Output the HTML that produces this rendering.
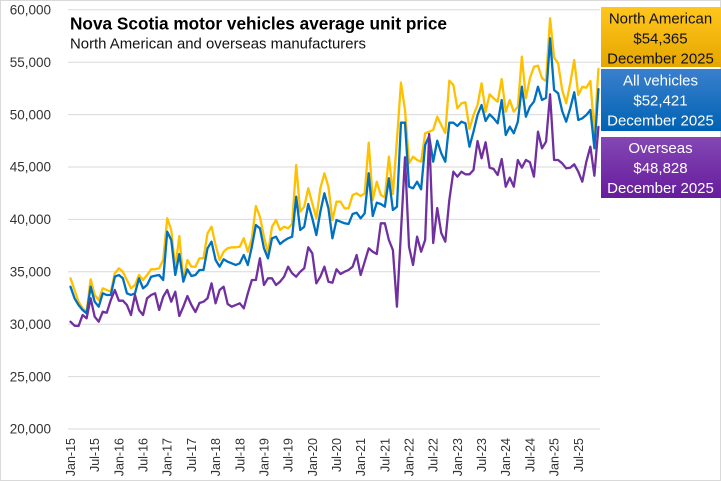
<!DOCTYPE html>
<html><head><meta charset="utf-8"><style>
html,body{margin:0;padding:0;background:#fff;}
svg{display:block;}
text{font-family:"Liberation Sans",Arial,sans-serif;}
</style></head><body>
<svg width="721" height="481" viewBox="0 0 721 481" xmlns="http://www.w3.org/2000/svg">
<defs>
<linearGradient id="gy" x1="0" y1="0" x2="0" y2="1"><stop offset="0" stop-color="#FFC61E"/><stop offset="1" stop-color="#E5A600"/></linearGradient>
<linearGradient id="gb" x1="0" y1="0" x2="0" y2="1"><stop offset="0" stop-color="#3A80CC"/><stop offset="1" stop-color="#0062B4"/></linearGradient>
<linearGradient id="gp" x1="0" y1="0" x2="0" y2="1"><stop offset="0" stop-color="#8447B4"/><stop offset="1" stop-color="#661C9C"/></linearGradient>
</defs>
<rect x="0.5" y="0.5" width="720" height="480" fill="#fff" stroke="#d9d9d9" stroke-width="1"/>
<g stroke="#d9d9d9" stroke-width="1">
<line x1="68" x2="600" y1="9.8" y2="9.8"/>
<line x1="68" x2="600" y1="62.2" y2="62.2"/>
<line x1="68" x2="600" y1="114.6" y2="114.6"/>
<line x1="68" x2="600" y1="167" y2="167"/>
<line x1="68" x2="600" y1="219.4" y2="219.4"/>
<line x1="68" x2="600" y1="271.8" y2="271.8"/>
<line x1="68" x2="600" y1="324.2" y2="324.2"/>
<line x1="68" x2="600" y1="376.6" y2="376.6"/>
<line x1="68" x2="600" y1="429" y2="429"/>
</g>
<g font-size="13.5" fill="#333" text-anchor="end">
<text x="51" y="14.5">60,000</text>
<text x="51" y="66.9">55,000</text>
<text x="51" y="119.3">50,000</text>
<text x="51" y="171.7">45,000</text>
<text x="51" y="224.1">40,000</text>
<text x="51" y="276.5">35,000</text>
<text x="51" y="328.9">30,000</text>
<text x="51" y="381.3">25,000</text>
<text x="51" y="433.7">20,000</text>
</g>
<g font-size="12.5" fill="#333" text-anchor="end">
<text transform="translate(75,438) rotate(-90)">Jan-15</text>
<text transform="translate(99.2,438) rotate(-90)">Jul-15</text>
<text transform="translate(123.4,438) rotate(-90)">Jan-16</text>
<text transform="translate(147.5,438) rotate(-90)">Jul-16</text>
<text transform="translate(171.7,438) rotate(-90)">Jan-17</text>
<text transform="translate(195.9,438) rotate(-90)">Jul-17</text>
<text transform="translate(220.1,438) rotate(-90)">Jan-18</text>
<text transform="translate(244.3,438) rotate(-90)">Jul-18</text>
<text transform="translate(268.4,438) rotate(-90)">Jan-19</text>
<text transform="translate(292.6,438) rotate(-90)">Jul-19</text>
<text transform="translate(316.8,438) rotate(-90)">Jan-20</text>
<text transform="translate(341,438) rotate(-90)">Jul-20</text>
<text transform="translate(365.2,438) rotate(-90)">Jan-21</text>
<text transform="translate(389.3,438) rotate(-90)">Jul-21</text>
<text transform="translate(413.5,438) rotate(-90)">Jan-22</text>
<text transform="translate(437.7,438) rotate(-90)">Jul-22</text>
<text transform="translate(461.9,438) rotate(-90)">Jan-23</text>
<text transform="translate(486.1,438) rotate(-90)">Jul-23</text>
<text transform="translate(510.2,438) rotate(-90)">Jan-24</text>
<text transform="translate(534.4,438) rotate(-90)">Jul-24</text>
<text transform="translate(558.6,438) rotate(-90)">Jan-25</text>
<text transform="translate(582.8,438) rotate(-90)">Jul-25</text>
</g>
<g transform="translate(70.5,0) scale(4.03,1)" fill="none" stroke-width="2.3" stroke-linejoin="round" stroke-linecap="round">
<polyline vector-effect="non-scaling-stroke" stroke="#FFC000" points="0,278.3 1,290 2,301.7 3,308.3 4,311.7 5,279.3 6,295 7,300 8,288.3 9,290 10,291.7 11,273.3 12,268.3 13,271.7 14,280 15,288.3 16,285 17,275 18,280 19,275 20,269.3 21,269.3 22,268.3 23,260 24,218.3 25,230 26,268.3 27,236 28,280 29,260 30,266.7 31,266.7 32,258.3 33,258.3 34,233.3 35,226.7 36,245 37,260 38,251.7 39,248.3 40,247.3 41,247.3 42,246.7 43,238.3 44,251.7 45,238.3 46,206 47,216.7 48,236.7 49,253.3 50,226.7 51,220 52,230 53,226.7 54,228.3 55,224 56,165 57,211.7 58,206.7 59,188.3 60,203.3 61,218.3 62,188.3 63,173.3 64,186.7 65,220 66,201.7 67,201.7 68,208.3 69,208.3 70,195 71,193.3 72,196 73,193.3 74,142.7 75,200 76,181.7 77,195 78,197.3 79,156.7 80,194 81,140 82,82.7 83,110 84,163.3 85,156.7 86,160 87,161.7 88,133.3 89,131.7 90,130 91,116.7 92,125 93,133 94,80.7 95,85 96,108.3 97,103.3 98,102.3 99,129 100,115 101,105 102,83.3 103,111.7 104,94.3 105,98.3 106,101.7 107,79 108,111.7 109,100 110,111.7 111,106.7 112,56.7 113,98.3 114,78.3 115,66.7 116,65.7 117,78.3 118,81 119,18.3 120,57.7 121,63.3 122,90 123,103.3 124,83.3 125,60 126,95 127,86.7 128,87.7 129,81 130,133.3 131,68.9"/>
<polyline vector-effect="non-scaling-stroke" stroke="#0070C0" points="0,286.7 1,298.3 2,305 3,310 4,313.3 5,286.7 6,301.7 7,306.7 8,293.3 9,295 10,295 11,276.7 12,275 13,278.3 14,293.3 15,295 16,293.3 17,278.3 18,288.3 19,285 20,276.7 21,275.7 22,275 23,280 24,231.7 25,240 26,275 27,254 28,281.7 29,269.3 30,276 31,275 32,270 33,270 34,248.3 35,241.7 36,260 37,266.7 38,259.3 39,261.7 40,263.3 41,265 42,263.3 43,255 44,265 45,246.7 46,225 47,228.3 48,248.3 49,258.3 50,238.3 51,236.7 52,244 53,240.7 54,238.3 55,236.7 56,196.7 57,230 58,226.7 59,204 60,218.3 61,235 62,211.7 63,193.3 64,208.3 65,238.3 66,220 67,221.7 68,223.3 69,224 70,214 71,212.7 72,218.3 73,213.3 74,173.3 75,216 76,202.7 77,204 78,206.7 79,178.3 80,210 81,206.7 82,122.7 83,122.7 84,186.7 85,188.3 86,181.7 87,189.3 88,145 89,136 90,161.7 91,140.7 92,153.3 93,161.7 94,122.7 95,122.7 96,126 97,121.7 98,123.3 99,146.7 100,131.7 101,115 102,105 103,121 104,114.3 105,118.3 106,123.3 107,100 108,135 109,126.7 110,133.3 111,121.7 112,86.7 113,116.7 114,106.7 115,101.7 116,86.7 117,100 118,97.7 119,38.3 120,90 121,93.3 122,111 123,121.7 124,108.3 125,92.3 126,120 127,118.3 128,115 129,110 130,148.3 131,89.2"/>
<polyline vector-effect="non-scaling-stroke" stroke="#7030A0" points="0,321.7 1,325.7 2,326 3,315 4,318.3 5,298.3 6,316.7 7,321.7 8,311.7 9,312.7 10,300 11,290 12,300.7 13,300.7 14,305 15,315 16,295 17,310 18,315 19,298.3 20,295 21,293.3 22,310 23,296.7 24,290 25,301.7 26,291.7 27,316 28,306.7 29,296 30,305 31,312 32,303 33,301.7 34,298.3 35,283.3 36,303.3 37,290 38,286.7 39,304 40,306.7 41,305 42,303.3 43,308.3 44,293.3 45,280 46,280 47,258.3 48,285 49,278.3 50,278.3 51,285 52,281.7 53,276.7 54,266.7 55,273.3 56,276.7 57,271.7 58,268.3 59,247.3 60,253.3 61,283.3 62,276.7 63,266.7 64,281.7 65,282.7 66,269.3 67,274 68,271.7 69,270 70,266.7 71,255 72,275 73,261.7 74,248.3 75,251.7 76,254 77,223.3 78,223.3 79,240 80,250 81,306.7 82,232 83,157.3 84,246.7 85,265 86,236.7 87,251.7 88,240 89,134 90,243 91,208 92,233 93,241.7 94,200 95,171.7 96,176.7 97,171.7 98,174.3 99,174.3 100,170 101,141 102,158.3 103,142.3 104,167.7 105,169 106,175 107,159 108,186.7 109,177.7 110,186.7 111,160 112,167.7 113,160 114,162.3 115,176.7 116,131.7 117,148.3 118,141.7 119,94.3 120,160 121,160 122,163.3 123,168.3 124,167.7 125,164.3 126,171.7 127,181.7 128,161.7 129,146.7 130,175.7 131,126.9"/>
</g>
<text x="70" y="29.3" font-size="17.2" font-weight="bold" fill="#000" textLength="377" lengthAdjust="spacingAndGlyphs">Nova Scotia motor vehicles average unit price</text>
<text x="70" y="48.3" font-size="14.3" fill="#111" textLength="296" lengthAdjust="spacingAndGlyphs">North American and overseas manufacturers</text>
<rect x="601" y="7" width="120" height="60" fill="url(#gy)"/>
<rect x="601" y="69" width="120" height="62" fill="url(#gb)"/>
<rect x="601" y="137" width="120" height="61" fill="url(#gp)"/>
<g font-size="15" text-anchor="middle">
<text x="660.5" y="23.3" fill="#111">North American</text>
<text x="660.5" y="43.3" fill="#111">$54,365</text>
<text x="660.5" y="63.3" fill="#111">December 2025</text>
<text x="660.5" y="85.5" fill="#fff">All vehicles</text>
<text x="660.5" y="105.5" fill="#fff">$52,421</text>
<text x="660.5" y="125.5" fill="#fff">December 2025</text>
<text x="660.5" y="153" fill="#fff">Overseas</text>
<text x="660.5" y="173" fill="#fff">$48,828</text>
<text x="660.5" y="193" fill="#fff">December 2025</text>
</g>
</svg>
</body></html>
